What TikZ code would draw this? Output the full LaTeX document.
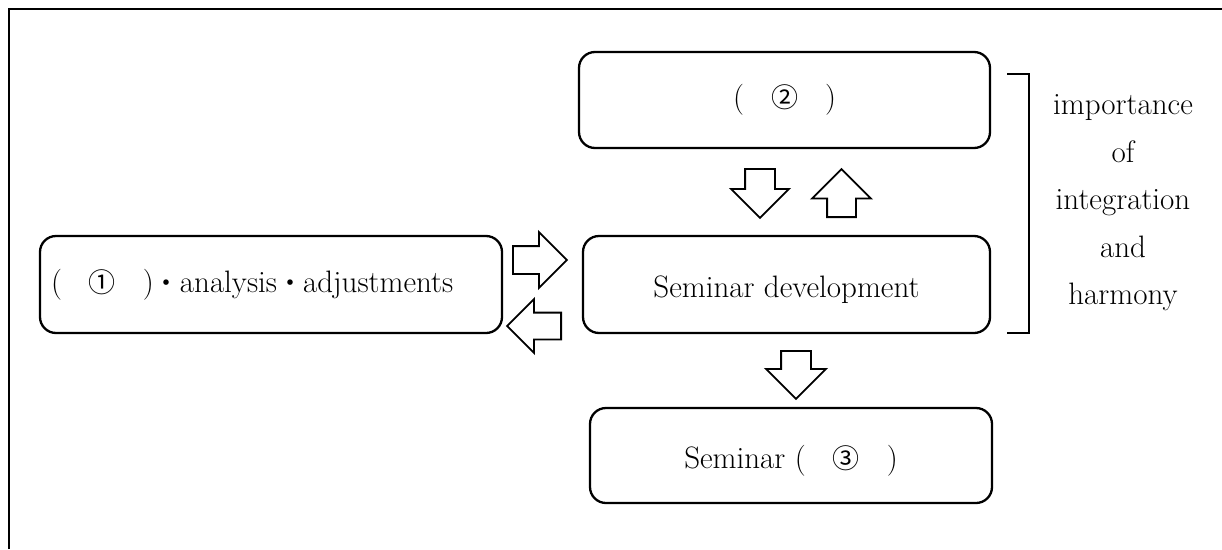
\documentclass[tikz,border=0pt]{standalone}
\usepackage{fontspec}
\newfontfamily\cjk{Noto Sans CJK JP}
\usetikzlibrary{shapes.arrows}

\begin{document}
\begin{tikzpicture}[x=1pt, y=-1pt,
    every node/.style={font=\fontsize{31}{37}\selectfont},
    box/.style={draw, line width=2.3pt, rounded corners=16pt, inner sep=0pt},
    blockarrow/.style={single arrow, draw, line width=1.8pt, fill=white, inner xsep=0pt, anchor=tail}]

   \useasboundingbox (0,0) rectangle (1222,549);
   \draw[line width=2.8pt] (9,549) |- (1222,9);

   \node[box, text width=440pt, align=left, inner xsep=11pt, minimum height=97pt]
      (bL) at (271,284.5) {({\cjk\fontsize{27}{34}\selectfont 　①　}){\cjk\fontsize{26}{34}\selectfont ・}analysis{\cjk\fontsize{26}{34}\selectfont ・}adjustments};

   \foreach \t/\x/\y/\w/\h/\l in {T/784.5/100/411/96/{({\cjk\fontsize{27}{34}\selectfont 　②　})},
                                  D/786.5/284.5/407/97/{\raisebox{-5pt}[\height][\depth]{Seminar development}},
                                  S/791/455.5/402/95/{\raisebox{-5pt}[\height][\depth]{Seminar ({\cjk\fontsize{27}{34}\selectfont 　③　})}}}
     \node [box, minimum width=\w pt, minimum height=\h pt]
        (b\t) at (\x,\y) {\l};

   \foreach \t/\x/\y/\r/\l/\w/\s/\e in {R/512/260/0/54/54/13/14, L/562/326/180/54/52/12.5/13.5,
                                        D/760/168/270/49/56/14/14, U/841.5/218/90/48/57/13.5/15,
                                        S/796/350/270/48/58/14/15}
     \node [blockarrow, rotate=\r, minimum height=\l pt, minimum width=\w pt,
            inner ysep=\s pt, single arrow head extend=\e pt]
        (a\t) at (\x,\y) {};

   \draw[line width=1.6pt] (1007,74) -| (1029,333) -- (1007,333);
   \node[align=center, font=\fontsize{31}{47.5}\selectfont]
      (note) at (1123,203) {importance\\of\\integration\\and\\harmony};
\end{tikzpicture}
\end{document}
